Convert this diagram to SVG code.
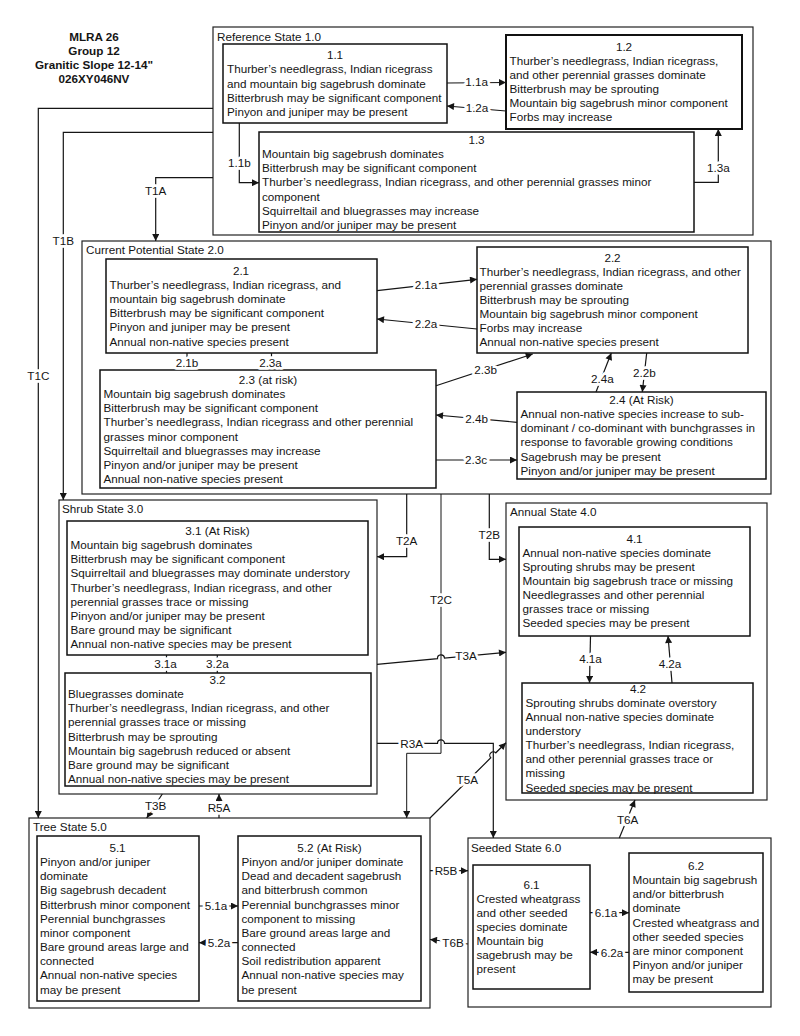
<svg xmlns="http://www.w3.org/2000/svg" width="800" height="1036" viewBox="0 0 800 1036">
<style>
text{font-family:"Liberation Sans",Arial,sans-serif;font-size:11.7px;fill:#151515}
.c{text-anchor:middle}
.b{font-weight:bold}
.st{fill:#fff;stroke:#222;stroke-width:1.2}
.bx{fill:#fff;stroke:#111;stroke-width:1.5}
.ln{fill:none;stroke:#151515;stroke-width:1.2}
.ar{fill:none;stroke:#151515;stroke-width:1.2;marker-end:url(#ah)}
.lb{text-anchor:middle;stroke:#fff;stroke-width:5.5;paint-order:stroke;stroke-linejoin:round}
</style>
<defs>
<marker id="ah" viewBox="0 0 10 10" refX="10" refY="5" markerWidth="9" markerHeight="7" markerUnits="userSpaceOnUse" orient="auto">
<path d="M0,0 L10,5 L0,10 z" fill="#151515"/>
</marker>
</defs>
<rect width="800" height="1036" fill="#fff"/>

<g id="title">
<text class="c b" x="94" y="41">MLRA 26</text>
<text class="c b" x="94" y="55">Group 12</text>
<text class="c b" x="94" y="69">Granitic Slope 12-14"</text>
<text class="c b" x="94" y="83">026XY046NV</text>
</g>

<g id="state1">
<rect class="st" x="213" y="27" width="540" height="208"/>
<text x="217" y="40.5">Reference State 1.0</text>
</g>
<g id="state2">
<rect class="st" x="82" y="241" width="689" height="253"/>
<text x="86" y="254">Current Potential State 2.0</text>
</g>
<g id="state3">
<rect class="st" x="59" y="500" width="318" height="294"/>
<text x="62" y="513">Shrub State 3.0</text>
</g>
<g id="state4">
<rect class="st" x="506" y="503" width="261" height="297"/>
<text x="510" y="516">Annual State 4.0</text>
</g>
<g id="state5">
<rect class="st" x="29" y="818" width="401" height="190"/>
<text x="33" y="831">Tree State 5.0</text>
</g>
<g id="state6">
<rect class="st" x="468" y="838" width="303" height="169"/>
<text x="471" y="852">Seeded State 6.0</text>
</g>

<g id="n11">
<rect class="bx" x="223" y="44" width="224" height="79"/>
<text class="c" x="335" y="59.3">1.1</text>
<text x="227" y="59.3"><tspan x="227" dy="14.15">Thurber’s needlegrass, Indian ricegrass</tspan><tspan x="227" dy="14.15">and mountain big sagebrush dominate</tspan><tspan x="227" dy="14.15">Bitterbrush may be significant component</tspan><tspan x="227" dy="14.15">Pinyon and juniper may be present</tspan></text>
</g>
<g id="n12">
<rect class="bx" x="506" y="35" width="236" height="94" style="stroke-width:2"/>
<text class="c" x="624" y="50.5">1.2</text>
<text x="509.5" y="50.5"><tspan x="509.5" dy="14.15">Thurber’s needlegrass, Indian ricegrass,</tspan><tspan x="509.5" dy="14.15">and other perennial grasses dominate</tspan><tspan x="509.5" dy="14.15">Bitterbrush may be sprouting</tspan><tspan x="509.5" dy="14.15">Mountain big sagebrush minor component</tspan><tspan x="509.5" dy="14.15">Forbs may increase</tspan></text>
</g>
<g id="n13">
<rect class="bx" x="259" y="132" width="435" height="100"/>
<text class="c" x="476.5" y="144">1.3</text>
<text x="262" y="144"><tspan x="262" dy="14.15">Mountain big sagebrush dominates</tspan><tspan x="262" dy="14.15">Bitterbrush may be significant component</tspan><tspan x="262" dy="14.15">Thurber’s needlegrass, Indian ricegrass, and other perennial grasses minor</tspan><tspan x="262" dy="14.15">component</tspan><tspan x="262" dy="14.15">Squirreltail and bluegrasses may increase</tspan><tspan x="262" dy="14.15">Pinyon and/or juniper may be present</tspan></text>
</g>

<g id="n21">
<rect class="bx" x="106" y="259" width="271" height="94"/>
<text class="c" x="241" y="274.8">2.1</text>
<text x="109.5" y="274.8"><tspan x="109.5" dy="14.15">Thurber’s needlegrass, Indian ricegrass, and</tspan><tspan x="109.5" dy="14.15">mountain big sagebrush dominate</tspan><tspan x="109.5" dy="14.15">Bitterbrush may be significant component</tspan><tspan x="109.5" dy="14.15">Pinyon and juniper may be present</tspan><tspan x="109.5" dy="14.15">Annual non-native species present</tspan></text>
</g>
<g id="n22">
<rect class="bx" x="477" y="247" width="271" height="106"/>
<text class="c" x="612.5" y="261.5">2.2</text>
<text x="479.5" y="261.5"><tspan x="479.5" dy="14.15">Thurber’s needlegrass, Indian ricegrass, and other</tspan><tspan x="479.5" dy="14.15">perennial grasses dominate</tspan><tspan x="479.5" dy="14.15">Bitterbrush may be sprouting</tspan><tspan x="479.5" dy="14.15">Mountain big sagebrush minor component</tspan><tspan x="479.5" dy="14.15">Forbs may increase</tspan><tspan x="479.5" dy="14.15">Annual non-native species present</tspan></text>
</g>
<g id="n23">
<rect class="bx" x="100" y="370" width="336" height="118"/>
<text class="c" x="268" y="384">2.3 (at risk)</text>
<text x="103.5" y="384"><tspan x="103.5" dy="14.15">Mountain big sagebrush dominates</tspan><tspan x="103.5" dy="14.15">Bitterbrush may be significant component</tspan><tspan x="103.5" dy="14.15">Thurber’s needlegrass, Indian ricegrass and other perennial</tspan><tspan x="103.5" dy="14.15">grasses minor component</tspan><tspan x="103.5" dy="14.15">Squirreltail and bluegrasses may increase</tspan><tspan x="103.5" dy="14.15">Pinyon and/or juniper may be present</tspan><tspan x="103.5" dy="14.15">Annual non-native species present</tspan></text>
</g>
<g id="n24">
<rect class="bx" x="517" y="392" width="249" height="87"/>
<text class="c" x="641.5" y="404">2.4 (At Risk)</text>
<text x="520.5" y="404"><tspan x="520.5" dy="14.15">Annual non-native species increase to sub-</tspan><tspan x="520.5" dy="14.15">dominant / co-dominant with bunchgrasses in</tspan><tspan x="520.5" dy="14.15">response to favorable growing conditions</tspan><tspan x="520.5" dy="14.15">Sagebrush may be present</tspan><tspan x="520.5" dy="14.15">Pinyon and/or juniper may be present</tspan></text>
</g>

<g id="n31">
<rect class="bx" x="67" y="521" width="301" height="134"/>
<text class="c" x="217.5" y="535">3.1 (At Risk)</text>
<text x="70.5" y="535"><tspan x="70.5" dy="14.15">Mountain big sagebrush dominates</tspan><tspan x="70.5" dy="14.15">Bitterbrush may be significant component</tspan><tspan x="70.5" dy="14.15">Squirreltail and bluegrasses may dominate understory</tspan><tspan x="70.5" dy="14.15">Thurber’s needlegrass, Indian ricegrass, and other</tspan><tspan x="70.5" dy="14.15">perennial grasses trace or missing</tspan><tspan x="70.5" dy="14.15">Pinyon and/or juniper may be present</tspan><tspan x="70.5" dy="14.15">Bare ground may be significant</tspan><tspan x="70.5" dy="14.15">Annual non-native species may be present</tspan></text>
</g>
<g id="n32">
<rect class="bx" x="65" y="673" width="306" height="113"/>
<text class="c" x="217.5" y="684">3.2</text>
<text x="68" y="684"><tspan x="68" dy="14.15">Bluegrasses dominate</tspan><tspan x="68" dy="14.15">Thurber’s needlegrass, Indian ricegrass, and other</tspan><tspan x="68" dy="14.15">perennial grasses trace or missing</tspan><tspan x="68" dy="14.15">Bitterbrush may be sprouting</tspan><tspan x="68" dy="14.15">Mountain big sagebrush reduced or absent</tspan><tspan x="68" dy="14.15">Bare ground may be significant</tspan><tspan x="68" dy="14.15">Annual non-native species may be present</tspan></text>
</g>

<g id="n41">
<rect class="bx" x="519" y="527" width="231" height="109"/>
<text class="c" x="634.5" y="542.5">4.1</text>
<text x="522.5" y="542.5"><tspan x="522.5" dy="14.15">Annual non-native species dominate</tspan><tspan x="522.5" dy="14.15">Sprouting shrubs may be present</tspan><tspan x="522.5" dy="14.15">Mountain big sagebrush trace or missing</tspan><tspan x="522.5" dy="14.15">Needlegrasses and other perennial</tspan><tspan x="522.5" dy="14.15">grasses trace or missing</tspan><tspan x="522.5" dy="14.15">Seeded species may be present</tspan></text>
</g>
<g id="n42">
<rect class="bx" x="522" y="683" width="231" height="110"/>
<text class="c" x="638" y="692.5">4.2</text>
<text x="525.5" y="692.5"><tspan x="525.5" dy="14.15">Sprouting shrubs dominate overstory</tspan><tspan x="525.5" dy="14.15">Annual non-native species dominate</tspan><tspan x="525.5" dy="14.15">understory</tspan><tspan x="525.5" dy="14.15">Thurber’s needlegrass, Indian ricegrass,</tspan><tspan x="525.5" dy="14.15">and other perennial grasses trace or</tspan><tspan x="525.5" dy="14.15">missing</tspan><tspan x="525.5" dy="14.15">Seeded species may be present</tspan></text>
</g>

<g id="n51">
<rect class="bx" x="37" y="836" width="162" height="165"/>
<text class="c" x="117.5" y="852">5.1</text>
<text x="40" y="852"><tspan x="40" dy="14.15">Pinyon and/or juniper</tspan><tspan x="40" dy="14.15">dominate</tspan><tspan x="40" dy="14.15">Big sagebrush decadent</tspan><tspan x="40" dy="14.15">Bitterbrush minor component</tspan><tspan x="40" dy="14.15">Perennial bunchgrasses</tspan><tspan x="40" dy="14.15">minor component</tspan><tspan x="40" dy="14.15">Bare ground areas large and</tspan><tspan x="40" dy="14.15">connected</tspan><tspan x="40" dy="14.15">Annual non-native species</tspan><tspan x="40" dy="14.15">may be present</tspan></text>
</g>
<g id="n52">
<rect class="bx" x="238" y="836" width="183" height="165"/>
<text class="c" x="329.5" y="852">5.2 (At Risk)</text>
<text x="241.5" y="852"><tspan x="241.5" dy="14.15">Pinyon and/or juniper dominate</tspan><tspan x="241.5" dy="14.15">Dead and decadent sagebrush</tspan><tspan x="241.5" dy="14.15">and bitterbrush common</tspan><tspan x="241.5" dy="14.15">Perennial bunchgrasses minor</tspan><tspan x="241.5" dy="14.15">component to missing</tspan><tspan x="241.5" dy="14.15">Bare ground areas large and</tspan><tspan x="241.5" dy="14.15">connected</tspan><tspan x="241.5" dy="14.15">Soil redistribution apparent</tspan><tspan x="241.5" dy="14.15">Annual non-native species may</tspan><tspan x="241.5" dy="14.15">be present</tspan></text>
</g>

<g id="n61">
<rect class="bx" x="473" y="865" width="117" height="124"/>
<text class="c" x="531.5" y="888.5">6.1</text>
<text x="476.5" y="888.5"><tspan x="476.5" dy="14.15">Crested wheatgrass</tspan><tspan x="476.5" dy="14.15">and other seeded</tspan><tspan x="476.5" dy="14.15">species dominate</tspan><tspan x="476.5" dy="14.15">Mountain big</tspan><tspan x="476.5" dy="14.15">sagebrush may be</tspan><tspan x="476.5" dy="14.15">present</tspan></text>
</g>
<g id="n62">
<rect class="bx" x="629" y="853" width="134" height="139"/>
<text class="c" x="696" y="870">6.2</text>
<text x="632.5" y="870"><tspan x="632.5" dy="14.15">Mountain big sagebrush</tspan><tspan x="632.5" dy="14.15">and/or bitterbrush</tspan><tspan x="632.5" dy="14.15">dominate</tspan><tspan x="632.5" dy="14.15">Crested wheatgrass and</tspan><tspan x="632.5" dy="14.15">other seeded species</tspan><tspan x="632.5" dy="14.15">are minor component</tspan><tspan x="632.5" dy="14.15">Pinyon and/or juniper</tspan><tspan x="632.5" dy="14.15">may be present</tspan></text>
</g>

<g id="connectors">
<path class="ar" d="M447,83 L506,82.5"/>
<path class="ar" d="M506,111 L447,106"/>
<path class="ar" d="M239.3,123 L239.3,182.7 L259,182.7"/>
<path class="ar" d="M694,182.3 L718.3,182.3 L718.3,129"/>
<path class="ar" d="M213,177.7 L155.7,177.7 L155.7,241"/>
<path class="ar" d="M213,132.3 L63.3,132.3 L63.3,500"/>
<path class="ar" d="M213,108.3 L38.3,108.3 L38.3,818"/>
<path class="ar" d="M377,290.7 L477,279.3"/>
<path class="ar" d="M477,329 L377,319"/>
<path class="ar" d="M436,385.7 L532.7,354"/>
<path class="ar" d="M596,392 L611.3,353"/>
<path class="ar" d="M646.7,353 L642.3,392"/>
<path class="ar" d="M517,422.3 L436,415"/>
<path class="ar" d="M436,460 L517,460"/>
<path class="ln" d="M187,353 L187,370"/>
<path class="ln" d="M271.5,353 L271.5,370"/>
<path class="ln" d="M166.5,655 L166.5,673"/>
<path class="ln" d="M217.3,655 L217.3,673"/>
<path class="ar" d="M406.7,494 L406.7,556.7 L377,556.7"/>
<path class="ar" d="M489.3,494 L489.3,559.3 L506,559.3"/>
<path class="ar" d="M441,494 L441,753.3 L406.7,753.3 L406.7,818" style="stroke-width:1"/>
<path class="ar" d="M377,664.3 L437.5,658.7 A3.5,3.5 0 0 1 444.5,658 L506,652.3"/>
<path class="ar" d="M377,743.3 L437.5,743.3 A3.5,3.5 0 0 1 444.5,743.3 L493.3,743.3 L493.3,838"/>
<path class="ar" d="M430,818 L490.8,757.8 A3.5,3.5 0 0 1 495.8,752.8 L506,742.7"/>
<path class="ar" d="M162.3,794 L146.7,818"/>
<path class="ar" d="M219,818 L219,794"/>
<path class="ar" d="M199,906 L238,906"/>
<path class="ar" d="M238,942.7 L199,942.7"/>
<path class="ar" d="M590,912.7 L629,912.7"/>
<path class="ar" d="M629,952.3 L590,952.3"/>
<path class="ar" d="M430,870.7 L468,870.7"/>
<path class="ar" d="M468,944 L430,939.5"/>
<path class="ar" d="M619.3,838 L635,800"/>
<path class="ar" d="M590.5,636 L589.5,683"/>
<path class="ar" d="M672,683 L668,636"/>

<text class="lb" x="476.7" y="86">1.1a</text>
<text class="lb" x="477" y="112.3">1.2a</text>
<text class="lb" x="239.3" y="166.5">1.1b</text>
<text class="lb" x="718.3" y="171.5">1.3a</text>
<text class="lb" x="155.7" y="195">T1A</text>
<text class="lb" x="63.3" y="245">T1B</text>
<text class="lb" x="38.3" y="380">T1C</text>
<text class="lb" x="426" y="288.5">2.1a</text>
<text class="lb" x="426" y="327.5">2.2a</text>
<text class="lb" x="485.7" y="374">2.3b</text>
<text class="lb" x="602.3" y="382.5">2.4a</text>
<text class="lb" x="644.3" y="376.5">2.2b</text>
<text class="lb" x="476.7" y="423">2.4b</text>
<text class="lb" x="476" y="464">2.3c</text>
<text class="lb" x="187" y="366.5">2.1b</text>
<text class="lb" x="270.5" y="366.5">2.3a</text>
<text class="lb" x="165.5" y="668.2">3.1a</text>
<text class="lb" x="217.3" y="668.2">3.2a</text>
<text class="lb" x="406.7" y="545">T2A</text>
<text class="lb" x="489.3" y="539">T2B</text>
<text class="lb" x="441" y="603.5">T2C</text>
<text class="lb" x="466" y="659.5">T3A</text>
<text class="lb" x="411.7" y="747.5">R3A</text>
<text class="lb" x="467.3" y="783.5">T5A</text>
<text class="lb" x="155.7" y="810">T3B</text>
<text class="lb" x="219" y="811.5">R5A</text>
<text class="lb" x="216" y="910.2">5.1a</text>
<text class="lb" x="219" y="947">5.2a</text>
<text class="lb" x="606" y="917">6.1a</text>
<text class="lb" x="612" y="956.5">6.2a</text>
<text class="lb" x="446" y="875">R5B</text>
<text class="lb" x="453" y="947">T6B</text>
<text class="lb" x="627.7" y="823.5">T6A</text>
<text class="lb" x="590.5" y="663">4.1a</text>
<text class="lb" x="670" y="668">4.2a</text>
</g>
</svg>
